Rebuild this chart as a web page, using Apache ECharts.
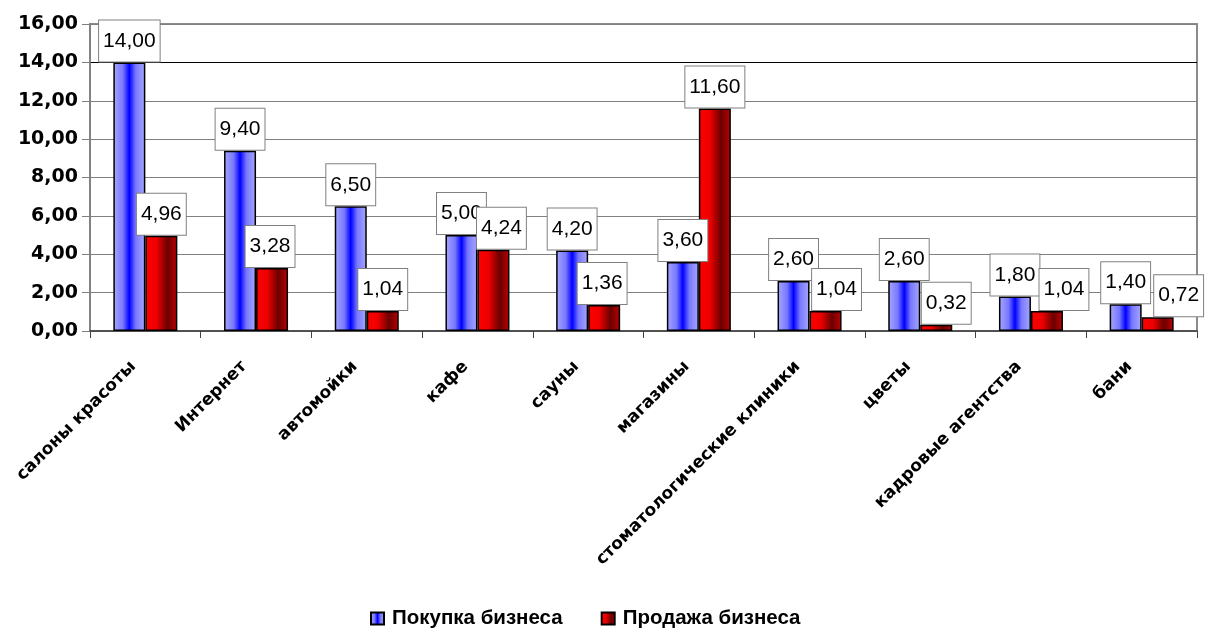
<!DOCTYPE html>
<html>
<head>
<meta charset="utf-8">
<script src="https://cdn.jsdelivr.net/npm/echarts@6/dist/echarts.min.js"></script>
<style>
  html, body { margin: 0; padding: 0; background: #fff; }
  #chart { width: 1212px; height: 628px; }
</style>
</head>
<body>
<div id="chart"></div>
<script>
// Business categories along the x axis
const categories = [
  'салоны красоты', 'Интернет', 'автомойки', 'кафе', 'сауны',
  'магазины', 'стоматологические клиники', 'цветы', 'кадровые агентства', 'бани'
];
// Series values
const buyValues  = [14.00, 9.40, 6.50, 5.00, 4.20, 3.60, 2.60, 2.60, 1.80, 1.40];
const sellValues = [4.96, 3.28, 1.04, 4.24, 1.36, 11.60, 1.04, 0.32, 1.04, 0.72];
const seriesNames = ['Покупка бизнеса', 'Продажа бизнеса'];
// Value axis range
const yMin = 0, yMax = 16, yStep = 2;

// Horizontal nudge (px) for the sell-value labels so they clear the neighbouring boxes
const sellLabelNudge = [0, -2, 0, 8, -2, 0, 11, 10, 17, 21];

const fmt = v => Number(v).toFixed(2).replace('.', ',');

const blueFill = new echarts.graphic.LinearGradient(0, 0, 1, 0, [
  { offset: 0, color: '#a8a8ff' },
  { offset: 0.3, color: '#7878ff' },
  { offset: 0.5, color: '#0000ff' },
  { offset: 0.7, color: '#7878ff' },
  { offset: 1, color: '#a8a8ff' }
]);
const redFill = new echarts.graphic.LinearGradient(0, 0, 1, 0, [
  { offset: 0, color: '#ff0000' },
  { offset: 0.35, color: '#ee0000' },
  { offset: 0.7, color: '#6a0000' },
  { offset: 1, color: '#c00000' }
]);

const valueLabel = {
  show: true,
  position: 'top',
  distance: 1,
  formatter: p => fmt(p.value),
  fontFamily: 'Liberation Sans, Arial, sans-serif',
  fontSize: 21,
  color: '#000',
  backgroundColor: '#fff',
  borderColor: '#808080',
  borderWidth: 1,
  padding: [9, 4, 9, 4],
  lineHeight: 23
};

// split line colours per level: 0 .. 16
const gridColors = ['#808080','#808080','#808080','#808080','#808080','#808080','#808080','#000000','#808080'];

const chart = echarts.init(document.getElementById('chart'), null, { renderer: 'canvas' });
chart.setOption({
  animation: false,
  backgroundColor: '#fff',
  grid: {
    left: 90, right: 15, top: 24, bottom: 297,
    show: true, borderColor: '#8c8c8c', borderWidth: 2, backgroundColor: 'transparent'
  },
  legend: {
    left: 365, top: 603,
    itemWidth: 13, itemHeight: 12, itemGap: 38,
    icon: 'rect',
    textStyle: { fontFamily: 'Liberation Sans, Arial, sans-serif', fontSize: 20.5, fontWeight: 'bold', color: '#000', padding: [0, 0, 0, 3] },
    data: seriesNames
  },
  xAxis: {
    type: 'category',
    data: categories,
    axisLine: { lineStyle: { color: '#404040', width: 1.5 } },
    axisTick: { show: true, length: 7, lineStyle: { color: '#404040' } },
    axisLabel: {
      interval: 0,
      rotate: 45,
      margin: 21,
      padding: [0, 17, 0, 0],
      fontFamily: 'DejaVu Sans, sans-serif',
      fontWeight: 'bold',
      fontSize: 17,
      color: '#000'
    }
  },
  yAxis: {
    type: 'value',
    min: yMin, max: yMax, interval: yStep,
    axisLine: { show: true, lineStyle: { color: '#808080', width: 1.5 } },
    axisTick: { show: true, length: 8, lineStyle: { color: '#808080' } },
    axisLabel: {
      formatter: v => fmt(v),
      margin: 12,
      fontFamily: 'DejaVu Sans, sans-serif',
      fontWeight: 'bold',
      fontSize: 19,
      color: '#000'
    },
    splitLine: { show: true, lineStyle: { color: gridColors, width: 1.2 } }
  },
  series: [
    {
      name: seriesNames[0],
      type: 'bar',
      data: buyValues,
      barWidth: 32,
      barGap: '0%',
      itemStyle: { color: blueFill, borderColor: '#000', borderWidth: 1.5 },
      label: valueLabel
    },
    {
      name: seriesNames[1],
      type: 'bar',
      data: sellValues,
      barWidth: 32,
      barGap: '0%',
      itemStyle: { color: redFill, borderColor: '#000', borderWidth: 1.5 },
      label: valueLabel,
      labelLayout: p => ({ dx: sellLabelNudge[p.dataIndex] || 0 })
    }
  ]
});
</script>
</body>
</html>
